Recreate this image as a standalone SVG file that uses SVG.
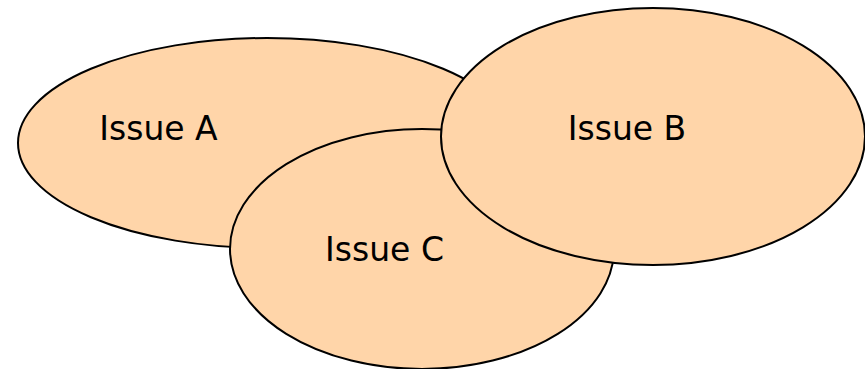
<svg xmlns="http://www.w3.org/2000/svg" width="865" height="369" viewBox="0 0 865 369">
<style>
.n{fill:#FFD5A9;stroke:#000;stroke-width:2}
.t{font-family:"DejaVu Sans",Verdana,sans-serif;font-size:33px;fill:#000;text-anchor:middle}
</style>
<rect width="865" height="369" fill="#fff"/>
<g id="issueA"><ellipse class="n" cx="267" cy="143" rx="249" ry="105"/><text class="t" x="158.5" y="140">Issue A</text></g>
<g id="issueC"><ellipse class="n" cx="422" cy="249" rx="192" ry="120"/><text class="t" x="384.5" y="261">Issue C</text></g>
<g id="issueB"><ellipse class="n" cx="653" cy="136.5" rx="212" ry="128.5"/><text class="t" x="627" y="140">Issue B</text></g>
<g id="connectors"/>
</svg>
